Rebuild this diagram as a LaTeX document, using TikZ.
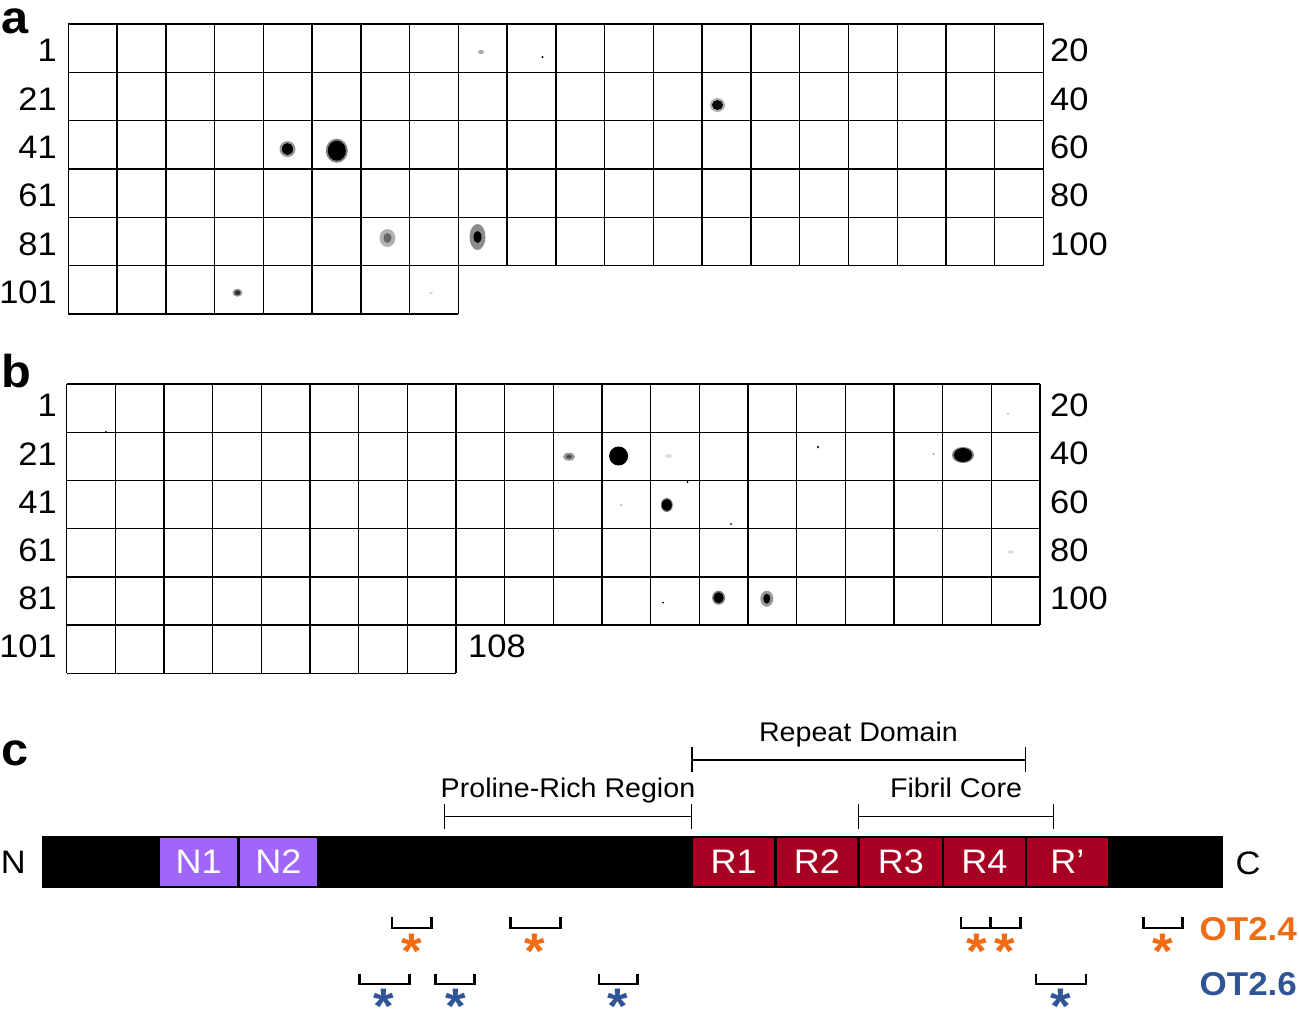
\documentclass[tikz,border=0pt]{standalone}
\usepackage{fontspec}
\setmainfont{Liberation Sans}[FakeStretch=1.06]
\definecolor{otorange}{RGB}{240,108,20}
\definecolor{otblue}{RGB}{47,85,151}
\definecolor{npurple}{RGB}{160,102,250}
\definecolor{rred}{RGB}{166,0,34}
\newcommand\blotch[5]{\fill[black!#5] (#1,#2) ellipse [x radius=#3, y radius=#4];}
\newcommand\astglyph{\raisebox{-0.37em}[0.34em][0pt]{*}}
\begin{document}
\begin{tikzpicture}[x=1pt,y=-1pt,
  gridline/.style={line width=1.4pt,black},
  rowlbl/.style={inner sep=0pt,font=\fontsize{32.5}{38}\selectfont},
  panellbl/.style={inner sep=0pt,anchor=base west,font=\fontsize{46}{54}\selectfont\bfseries},
  regionlbl/.style={inner sep=0pt,anchor=base,font=\fontsize{27}{32}\selectfont},
  regionbr/.style={line width=1.4pt,black},
  sitebr/.style={line width=2.6pt,black},
  dombox/.style={inner sep=0pt,minimum height=47.5pt,text=white,font=\fontsize{34}{40}\selectfont},
  star/.style={inner sep=0pt,anchor=center,font=\fontsize{50}{60}\selectfont\bfseries},
  otlbl/.style={inner sep=0pt,anchor=base west,font=\fontsize{33}{40}\selectfont\bfseries}]
\useasboundingbox (0,0) rectangle (1299,1010);
\fill[white] (0,0) rectangle (1299,1010);

% ---------------- panel a ----------------
\node[panellbl] (pa) at (1,33) {a};
\foreach \k in {0,...,5} \draw[gridline] (68.3,{24+48.3*\k}) -- (1043.5,{24+48.3*\k});
\draw[gridline] (68.3,{24+48.3*6}) -- ({68.3+48.76*8},{24+48.3*6});
\foreach \c in {0,...,20} \draw[gridline] ({68.3+48.76*\c},24) -- ({68.3+48.76*\c},{24+48.3*5});
\foreach \c in {0,...,8} \draw[gridline] ({68.3+48.76*\c},{24+48.3*5}) -- ({68.3+48.76*\c},{24+48.3*6});
\foreach \r/\l in {1/1,2/21,3/41,4/61,5/81,6/101}
  \node[rowlbl,anchor=east] (al\r) at (57,{24+48.3*(\r-0.5)+2.5}) {\l};
\foreach \r/\l in {1/20,2/40,3/60,4/80,5/100}
  \node[rowlbl,anchor=west] (ar\r) at (1050,{24+48.3*(\r-0.5)+2.5}) {\l};
% spots a
\blotch{481}{52}{3}{2}{35}
\blotch{542.5}{57}{1.2}{1.2}{100}
\blotch{717.5}{105}{7.5}{7}{30}\blotch{717.5}{105}{5.5}{5}{95}
\blotch{287.5}{149}{8}{8}{40}\blotch{287.5}{149}{5.5}{6}{100}
\blotch{336.8}{150.7}{11}{12}{50}\blotch{336.8}{150.7}{9}{10}{100}
\blotch{387.5}{238}{8}{9}{30}\blotch{387.5}{238}{4}{5}{60}
\blotch{477.5}{237}{8}{13}{45}\blotch{477.5}{237}{4}{6}{100}
\blotch{237.5}{292.7}{5}{4}{40}\blotch{237.5}{292.7}{3}{2.5}{80}
\blotch{431}{293}{2}{1}{15}

% ---------------- panel b ----------------
\node[panellbl] (pb) at (1,387) {b};
\foreach \k in {0,...,5} \draw[gridline] (66.7,{384+48.2*\k}) -- (1040,{384+48.2*\k});
\draw[gridline] (66.7,{384+48.2*6}) -- ({66.7+48.67*8},{384+48.2*6});
\foreach \c in {0,...,20} \draw[gridline] ({66.7+48.67*\c},384) -- ({66.7+48.67*\c},{384+48.2*5});
\foreach \c in {0,...,8} \draw[gridline] ({66.7+48.67*\c},{384+48.2*5}) -- ({66.7+48.67*\c},{384+48.2*6});
\foreach \r/\l in {1/1,2/21,3/41,4/61,5/81,6/101}
  \node[rowlbl,anchor=east] (bl\r) at (57,{384+48.2*(\r-0.5)-2.5}) {\l};
\foreach \r/\l in {1/20,2/40,3/60,4/80,5/100}
  \node[rowlbl,anchor=west] (br\r) at (1050,{384+48.2*(\r-0.5)-2.5}) {\l};
\node[rowlbl,anchor=west] (b108) at (468,{384+48.2*5.5-2.5}) {108};
% spots b
\blotch{106}{432}{1.2}{1.2}{100}
\blotch{569}{456.7}{6}{4}{40}\blotch{569}{456.7}{3}{2}{70}
\blotch{618.6}{456}{9.5}{9.5}{100}
\blotch{668.6}{456}{4}{2}{12}
\blotch{818}{447}{1}{1.5}{100}
\blotch{933.6}{454}{1}{1}{40}
\blotch{963}{455}{11}{8}{50}\blotch{963}{455}{9}{7}{100}
\blotch{666.8}{505}{6}{7}{50}\blotch{666.8}{505}{5}{6}{100}
\blotch{621}{505}{1}{1}{40}
\blotch{687.5}{482}{1}{1}{100}
\blotch{731}{524}{1}{1}{100}
\blotch{1010.7}{552}{3}{1.5}{15}
\blotch{718.6}{597.7}{6.5}{7}{50}\blotch{718.6}{597.7}{5}{5.5}{100}
\blotch{766.8}{598.7}{6.5}{8}{40}\blotch{766.8}{598.7}{3.5}{5}{100}
\blotch{663}{602.7}{1}{1}{100}
\blotch{1008}{414}{0.8}{0.8}{40}

% ---------------- panel c ----------------
\node[panellbl] (pc) at (1,765) {c};
\fill[black] (41.7,835.7) rectangle (1222.7,888.3);
\node[rowlbl] (nterm) at (13.3,862) {N};
\node[rowlbl] (cterm) at (1248,863) {C};
\node[dombox,fill=npurple,minimum width=76.7pt] (n1) at (198.6,862) {N1};
\node[dombox,fill=npurple,minimum width=76.7pt] (n2) at (278.3,862) {N2};
\node[dombox,fill=rred,minimum width=80.5pt] (r1) at (733.7,862) {R1};
\node[dombox,fill=rred,minimum width=80.8pt] (r2) at (817,862) {R2};
\node[dombox,fill=rred,minimum width=81.7pt] (r3) at (900.8,862) {R3};
\node[dombox,fill=rred,minimum width=81pt] (r4) at (984.5,862) {R4};
\node[dombox,fill=rred,minimum width=80.7pt] (rp) at (1067.4,862) {R’};

% region brackets
\draw[regionbr] (692,747) -- (692,772) (692,760) -- (1025.7,760) (1025.7,747) -- (1025.7,772);
\node[regionlbl] (repeat) at (858.5,741.7) {Repeat Domain};
\draw[regionbr] (444.6,804) -- (444.6,829) (444.6,816.7) -- (691.5,816.7) (691.5,804) -- (691.5,829);
\node[regionlbl] (proline) at (568,797.7) {Proline-Rich Region};
\draw[regionbr] (858.3,804) -- (858.3,829) (858.3,816.7) -- (1053.3,816.7) (1053.3,804) -- (1053.3,829);
\node[regionlbl] (fibril) at (956,797.3) {Fibril Core};

% OT2.4 sites
\draw[sitebr] (392,917) -- (392,928) -- (431.7,928) -- (431.7,917);
\draw[sitebr] (510.7,917) -- (510.7,928) -- (560.7,928) -- (560.7,917);
\draw[sitebr] (961,917) -- (961,928) -- (1020.4,928) -- (1020.4,917) (990.2,917) -- (990.2,928);
\draw[sitebr] (1143.4,917) -- (1143.4,928) -- (1182.7,928) -- (1182.7,917);
\foreach \x [count=\i] in {411.7,534.8,977,1005,1163}
  \node[star,text=otorange] (os\i) at (\x,941.5) {\astglyph};
\node[otlbl,text=otorange] (ot24) at (1199.5,940) {OT2.4};

% OT2.6 sites
\draw[sitebr] (359.3,974) -- (359.3,984) -- (409.3,984) -- (409.3,974);
\draw[sitebr] (435.3,974) -- (435.3,984) -- (474.6,984) -- (474.6,974);
\draw[sitebr] (599,974) -- (599,984) -- (637.5,984) -- (637.5,974);
\draw[sitebr] (1035.8,974) -- (1035.8,984) -- (1085.8,984) -- (1085.8,974);
\foreach \x [count=\i] in {384,455.4,618.3,1061}
  \node[star,text=otblue] (bs\i) at (\x,996.5) {\astglyph};
\node[otlbl,text=otblue] (ot26) at (1199.5,995) {OT2.6};
\end{tikzpicture}
\end{document}
